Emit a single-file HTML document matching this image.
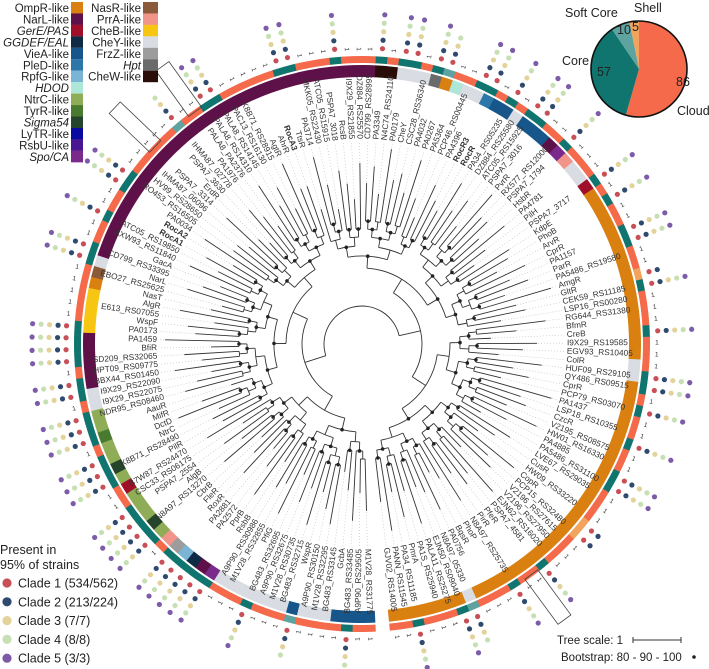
<!DOCTYPE html>
<html><head><meta charset="utf-8"><style>
html,body{margin:0;padding:0;background:#fff;}
svg{display:block;font-family:"Liberation Sans",sans-serif;}
</style></head><body>
<svg id="fig" width="709" height="669" viewBox="0 0 709 669" xmlns="http://www.w3.org/2000/svg">
<g id="tree"></g>
<g id="rings"></g>
<g id="labels"></g>
<g id="dots"></g>
<g id="legend"></g>
<g id="pie"></g>
<g id="clade-legend">
  <text x="0" y="554" font-size="12.5" fill="#222">Present in</text>
  <text x="0" y="569" font-size="12.5" fill="#222">95% of strains</text>
</g>
<g id="scale">
  <text x="557" y="644" font-size="11.5" fill="#222">Tree scale: 1</text>
  <line x1="633" y1="640" x2="681" y2="640" stroke="#333" stroke-width="1"/>
  <line x1="633" y1="637" x2="633" y2="643" stroke="#333"/>
  <line x1="681" y1="637" x2="681" y2="643" stroke="#333"/>
  <text x="561" y="661" font-size="11.5" fill="#222">Bootstrap: 80 - 90 - 100</text>
  <circle cx="694" cy="657" r="1.8" fill="#222"/>
</g>
</svg>
<script>
const NS="http://www.w3.org/2000/svg";
// ---- data ----
const leafLabels=["M1V28_RS31775","A9P90_RS29505","BG483_RS33485","GcbA","BG483_RS33145","M1V28_RS32295","A9P90_RS30150","WspR","BG483_RS32715","M1V28_RS30735","A9P90_RS32675","BG483_RS32695","PfiG","M1V28_RS32855","A9P90_RS30986","RsbB","PprB","PA2572","PA2881","RoxR","FleR","CbrB","N8A97_RS13270","AlgB","PSPA7_2554","CSC33_RS06175","B7W87_RS24470","PilR","K8B71_RS28490","NtrC","DctD","MifR","AauR","NDR95_RS08460","I9X29_RS22075","I9X29_RS22090","BBX44_RS01450","HPT09_RS09775","SD209_RS32065","BfiR","PA1459","PA0173","WspF","E613_RS07055","AlgR","NasT","EBO27_RS25625","NarL","CD799_RS33395","GacA","AXW93_RS11840","ATC05_RS19850","RocA1","RocA2","PA0034","RO453_RS16505","HV99_RS28650","IHMA87_06096","PSPA7_3314","ErdR","PSPA7_3630","IHMA87_02778","PA1976","PALA8_PA2376","PALA8_RS14310","PALA8_RS14145","PAC13_RS16130","K8B71_RS28915","AgtR","AhrR","RocA3","TtsR","PA3714","MKK05_RS22430","ATC05_RS15915","PSPA7_3018","RcsB","I9X29_RS21855","DZ884_RS25570","CD799_RS28995","PA3349","N4C74_RS24110","PA0179","CheY","CSC28_RS36340","PA4032","PA0267","PA5364","PCP46_RS00445","PA4396","RocR3","RocR","PA34_RS05235","DZ884_RS25580","ATC05_RS15925","PSPA7_3016","PvrR","RX577_RS12000","PSPA7_1794","HsbR","PA4781","PilH","PSPA7_3717","KdpE","PhoB","ArvR","CprR","PA1157","ParR","PA5486_RS19580","AmgR","GltR","CEK59_RS11185","LSP16_RS00280","RG644_RS31380","BfmR","CreB","I9X29_RS19585","EGV93_RS10405","ColR","HUF09_RS29105","QY486_RS09515","CprR","PCP79_RS03070","PA1437","LSP18_RS10355","CzcR","V2195_RS08575","HW01_RS16330","PA4885","PA5486_RS31100","LVE67_RS29035","CusR","HW09_RS33220","CopR","PCP15_RS32480","V2196_RS27615","V2196_RS27950","EJN62_RS16020","PSPA7_4581","PfeR","PirR","N8A97_RS25735","PhoP","BqsR","PA0756","N8A97_05330","EJN50_RS09040","PALA11_RS25275","PA1S_RS25940","PmrA","PA34_RS11185","PANN_RS11545","GJV02_RS14005"];
const boldLabels=["RocA1","RocA2","RocA3","RocR","RocR3"];
const familyNames=["OmpR-like","NarL-like","GerE/PAS","GGDEF/EAL","VieA-like","PleD-like","RpfG-like","HDOD","NtrC-like","TyrR-like","Sigma54","LyTR-like","RsbU-like","Spo/CA","NasR-like","PrrA-like","CheB-like","CheY-like","FrzZ-like","Hpt","CheW-like"];
const familyColors=["#d98010","#5e1048","#a00f2a","#0e2a45","#17568a","#2d77a8","#7ab5d6","#aee6d8","#8fac57","#4a7a30","#24452a","#0a0aa0","#4a1590","#7a2a8a","#8b5a3a","#f1958a","#f7c613","#d9dde3","#9c9c9c","#6b6b6b","#2a0d08"];
const familyItalic=["GerE/PAS","GGDEF/EAL","HDOD","Sigma54","Spo/CA","Hpt"];
const familyRunNames=["VieA-like","CheY-like","VieA-like","CheY-like","Spo/CA","NarL-like","GGDEF/EAL","RpfG-like","FrzZ-like","PrrA-like","NtrC-like","Sigma54","NtrC-like","GerE/PAS","NtrC-like","Sigma54","NtrC-like","TyrR-like","NtrC-like","CheY-like","NarL-like","CheB-like","OmpR-like","NasR-like","CheY-like","NarL-like","CheW-like","CheY-like","Hpt","OmpR-like","HDOD","CheY-like","PleD-like","VieA-like","CheY-like","VieA-like","NarL-like","Spo/CA","PrrA-like","CheY-like","GerE/PAS","OmpR-like","CheY-like","OmpR-like","CheY-like","OmpR-like"];
const familyRunCounts=[4,3,1,7,1,1,1,1,1,1,1,1,3,1,1,1,2,1,2,2,5,4,1,1,1,32,2,3,1,1,1,2,1,2,1,3,1,1,1,2,1,16,2,25,1,5];
const cladeCodes="OOTOOOOSOOOTOOOTTTTTOTTTTOOTTTOTTTOTTOTTTTOOOOOTTOOTOOTTOOOOOSOOTTOOOOOTTOOOTOOOTOTTOTSOOTTOTOTTOOTOOOTOTOOTTOOHTOOOTOOOTTOTOOTOOTTOOOHHOOOTOOTOOOSTOOOT";
const cladeNames=["Core","Soft Core","Shell","Cloud"];
const cladeCodeKeys=["T","S","H","O"];
const cladeColors=["#11756f","#5fa3a0","#f2a35e","#f46a4a"];
const panValues=[86,57,10,5];
const panNames=["Cloud","Core","Soft Core","Shell"];
const panColors=["#f46a4a","#11756f","#5fa3a0","#f2a35e"];
const strainClades=["Clade 1 (534/562)","Clade 2 (213/224)","Clade 3 (7/7)","Clade 4 (8/8)","Clade 5 (3/3)"];
const strainColors=["#c94f57","#2e4a6e","#e3d39b","#c6e0b4","#7c5ca8"];
const dotsPerCode=[5,4,2,0];
const splitFrac=[0.46,0.38,0.55,0.3,0.62,0.5,0.42,0.35,0.58,0.67,0.45,0.52];
const termLen=[52,34,70,40,22,60,46,30,66,38,55,28,74,44];
const boxAngles=[313.7,324.3,143.7];

// ---- geometry ----
const cx=362, cy=344, th0=177.3, th1=534.4;
const N=leafLabels.length, step=(th1-th0)/N;
const ang=i=>th0+(i+0.5)*step;
const P=(r,t)=>{const a=t*Math.PI/180;return [cx+r*Math.sin(a),cy-r*Math.cos(a)];};
function el(tag,attrs,parent){const e=document.createElementNS(NS,tag);for(const k in attrs)e.setAttribute(k,attrs[k]);parent.appendChild(e);return e;}
function sector(r0,r1,t0,t1){const a=P(r1,t0),b=P(r1,t1),c=P(r0,t1),d=P(r0,t0);const lg=(t1-t0)>180?1:0;
return `M${a[0]},${a[1]}A${r1},${r1} 0 ${lg} 1 ${b[0]},${b[1]}L${c[0]},${c[1]}A${r0},${r0} 0 ${lg} 0 ${d[0]},${d[1]}Z`;}

// ---- rings ----
const rings=document.getElementById('rings');
let fam=[];familyRunNames.forEach((n,k)=>{for(let j=0;j<familyRunCounts[k];j++)fam.push(n);});
while(fam.length<N)fam.push(familyRunNames[familyRunNames.length-1]);
for(let i=0;i<N;i++){
  const t=ang(i);
  const f=el('path',{d:sector(267,279,t-step/2-0.05,t+step/2+0.05),fill:familyColors[familyNames.indexOf(fam[i])]},rings);
  
  
  const code=cladeCodes[i]||"O";
  const c=el('path',{d:sector(281,288,t-step/2-0.05,t+step/2+0.05),fill:cladeColors[cladeCodeKeys.indexOf(code)]},rings);
  
  
}

// ---- dots & counts ----
const dots=document.getElementById('dots');
for(let i=0;i<N;i++){
  const t=ang(i);const code=cladeCodes[i]||"O";
  const nd=dotsPerCode[cladeCodeKeys.indexOf(code)];
  if(nd===0){
    const p=P(295,t);
    const tx=el('text',{x:p[0],y:p[1],'font-size':6.5,fill:'#333','text-anchor':'middle','dominant-baseline':'middle',transform:`rotate(${(t%360)<180?t-90:t+90} ${p[0]} ${p[1]})`},dots);
    tx.textContent="1";
    
    
  }
  for(let k=0;k<nd;k++){
    const p=P(296+k*8.5,t);
    const d=el('circle',{cx:p[0],cy:p[1],r:2.6,fill:strainColors[k]},dots);
    
    
  }
}
boxAngles.forEach(t=>{
  const p=P(314,t);
  const b=el('rect',{x:p[0]-28,y:p[1]-8,width:56,height:16,fill:'none',stroke:'#444','stroke-width':0.8,transform:`rotate(${t-90} ${p[0]} ${p[1]})`},dots);
  
  
});

// ---- labels ----
const labels=document.getElementById('labels');
leafLabels.forEach((s,i)=>{
  const t=ang(i);const tm=((t%360)+360)%360;const p=P(205,t);
  const right=tm<180;
  const tx=el('text',{x:p[0],y:p[1],'font-size':8.3,fill:'#333','text-anchor':right?'start':'end','dominant-baseline':'middle',transform:`rotate(${right?t-90:t+90} ${p[0]} ${p[1]})`},labels);
  if(boldLabels.includes(s))tx.setAttribute('font-weight','bold');
  tx.textContent=s;
  
  
});

// ---- tree ----
const tree=document.getElementById('tree');
const depthStep=[18,22,16,12,10,9,8,8,7,7,6,6,6,5,5,5];
let sc=0, nc=0;
function line(r0,r1,t,name){const a=P(r0,t),b=P(r1,t);const l=el('line',{x1:a[0],y1:a[1],x2:b[0],y2:b[1],stroke:'#333','stroke-width':0.9},tree);}
function build(a,b,depth,rp){
  if(b-a===1){
    const t=ang(a);const tip=Math.min(rp+termLen[a%termLen.length],198);
    line(rp,tip,t,'terminal-branch');
    const p1=P(tip+1,t),p2=P(203,t);
    const d=el('line',{x1:p1[0],y1:p1[1],x2:p2[0],y2:p2[1],stroke:'#bbb','stroke-width':0.6,'stroke-dasharray':'1 2'},tree);
    
    
    return t;
  }
  const r=rp+(depthStep[depth]||5);
  const f=splitFrac[sc++%splitFrac.length];
  const m=a+Math.max(1,Math.min(b-a-1,Math.round((b-a)*f)));
  const t1=build(a,m,depth+1,r), t2=build(m,b,depth+1,r);
  const A=P(r,t1),B=P(r,t2);
  const arc=el('path',{d:`M${A[0]},${A[1]}A${r},${r} 0 ${(t2-t1)>180?1:0} 1 ${B[0]},${B[1]}`,fill:'none',stroke:'#333','stroke-width':0.9},tree);
  
  
  const tm=(t1+t2)/2;
  if(depth>0)line(rp,r,tm,'internal-branch');
  if(depth>=3&&(nc++%3)!==0){const p=P(r,tm);const c=el('circle',{cx:p[0],cy:p[1],r:1.8,fill:'#222'},tree);}
  return tm;
}
build(0,N,0,20);

// ---- family legend ----
const lg=document.getElementById('legend');
familyNames.forEach((n,k)=>{
  const col=k<14?0:1;const row=col?k-14:k;
  const y=2+row*11.45;
  const bx=col?143:71, bw=col?15:12;
  const r=el('rect',{x:bx,y:y,width:bw,height:11.5,fill:familyColors[k]},lg);
  
  
  const t=el('text',{x:bx-2,y:y+10,'font-size':11.5,fill:'#222','text-anchor':'end'},lg);
  if(familyItalic.includes(n))t.setAttribute('font-style','italic');
  t.textContent=n;
  
  
});

// ---- pie ----
const pie=document.getElementById('pie');
const pcx=639,pcy=69,pr=48;const tot=panValues.reduce((a,b)=>a+b,0);
let acc=0;
const labelPos=[[676,86,"#222"],[597,76,"#222"],[617,34,"#222"],[632,31,"#222"]];
const namePos=[[677,115],[562,65],[565,17],[634,12]];
panValues.forEach((v,k)=>{
  const a0=acc/tot*360,a1=(acc+v)/tot*360;acc+=v;
  const s=[pcx+pr*Math.sin(a0*Math.PI/180),pcy-pr*Math.cos(a0*Math.PI/180)],e=[pcx+pr*Math.sin(a1*Math.PI/180),pcy-pr*Math.cos(a1*Math.PI/180)];
  const p=el('path',{d:`M${pcx},${pcy}L${s[0]},${s[1]}A${pr},${pr} 0 ${(a1-a0)>180?1:0} 1 ${e[0]},${e[1]}Z`,fill:panColors[k]},pie);
  
  
  const t=el('text',{x:labelPos[k][0],y:labelPos[k][1],'font-size':12.5,fill:'#222'},pie);
  t.textContent=v;
  
  
  const nm=el('text',{x:namePos[k][0],y:namePos[k][1],'font-size':12.5,fill:'#222'},pie);
  nm.textContent=panNames[k];
  
  
});
const pc=el('circle',{cx:pcx,cy:pcy,r:pr,fill:'none',stroke:'#111','stroke-width':1.6},pie);



// ---- clade legend ----
const cl=document.getElementById('clade-legend');
strainClades.forEach((n,k)=>{
  const y=583+k*18.8;
  const c=el('circle',{cx:7,cy:y,r:4.6,fill:strainColors[k]},cl);
  
  
  const t=el('text',{x:18,y:y+4.5,'font-size':12.5,fill:'#222'},cl);
  t.textContent=n;
  
  
});
</script>
</body></html>
